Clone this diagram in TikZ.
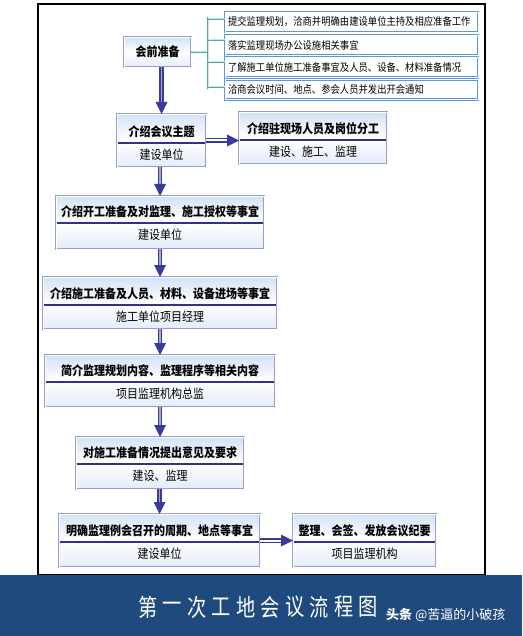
\documentclass[tikz,border=0pt]{standalone}
\usepackage{fontspec}
\setmainfont{Noto Sans CJK SC}[FakeStretch=0.88]
\newfontfamily\wmfont{Noto Sans CJK SC}
\newfontfamily\bnfont{Noto Sans CJK SC}[FakeStretch=0.8]
\usetikzlibrary{arrows.meta,calc}
\definecolor{boxedge}{HTML}{9C9CCC}
\definecolor{boxtop}{HTML}{D2E2F6}
\definecolor{boxbot}{HTML}{E2ECF9}
\definecolor{divc}{HTML}{2E3190}
\definecolor{arrc}{HTML}{3A3A9C}
\definecolor{listedge}{HTML}{5A9AD8}
\definecolor{brc}{HTML}{4FA9A2}
\definecolor{banner}{HTML}{1F4A7E}
\tikzset{
  flowbox/.style={draw=boxedge, double=white, double distance=0.9pt, line width=1pt,
    top color=boxtop, bottom color=boxbot, middle color=white, inner sep=0pt, outer sep=0pt},
  divider/.style={draw=divc, line width=1.2pt},
  titletext/.style={font=\fontsize{12.5}{14}\selectfont\bfseries, inner sep=0pt},
  subtext/.style={font=\fontsize{12.5}{14}\selectfont, inner sep=0pt},
  listbox/.style={draw=listedge, double=white, double distance=0.8pt, line width=0.8pt,
    fill=white, minimum height=20pt, text width=247pt, align=left, inner xsep=3pt, inner ysep=0pt,
    font=\fontsize{10.6}{12}\selectfont, outer sep=0pt},
  bracket/.style={draw=brc, double=white!70!brc, double distance=1pt, line width=0.8pt},
  shaft/.style={draw=arrc, double=arrc!45, double distance=1.4pt, line width=1.4pt},
  rshaft/.style={draw=arrc, double=white, double distance=2pt, line width=1.2pt},
  headc/.style={fill=arrc},
  bannertext/.style={text=white, font=\bnfont\fontsize{24}{26}\selectfont, inner sep=0pt},
}
\newcommand\flowbox[8]{%
  \node[flowbox, minimum width={#4-#2-2}, minimum height={#5-#3-2}] (#1) at ({(#2+#4)/2},{(#3+#5)/2}) {};
  \draw[divider] ({#2+1.8},#6) -- ({#4-1.8},#6);
  \node[titletext] (#1t) at ({(#2+#4)/2},{#6-11}) {#7};
  \node[subtext] (#1s) at ({(#2+#4)/2},{#6+12}) {#8};
}
\newcommand\downarr[2]{%
  \draw[shaft] (#1.south -| #2.north) -- ([yshift=10pt]#2.north);
  \fill[headc] (#2.north) -- ++(-6,-12) -- ++(12,0) -- cycle;
}
\newcommand\rightarr[2]{%
  \draw[rshaft] (#1.east) -- ([xshift=-10pt]#1.east -| #2.west);
  \fill[headc] (#1.east -| #2.west) -- ++(-12,6) -- ++(0,-12) -- cycle;
}
\begin{document}
\begin{tikzpicture}[x=1pt,y=-1pt]
\useasboundingbox (0,0) rectangle (522,636);
% frame
\draw[line width=1.2pt] (38,4) rectangle (485,575);
% prep box
\node[flowbox, minimum width=67, minimum height=30, font=\fontsize{12.5}{14}\selectfont\bfseries] (prep) at (157.5,52) {会前准备};
% list boxes
\node[listbox] (l1) at (351.5,22) {提交监理规划，洽商并明确由建设单位主持及相应准备工作};
\node[listbox] (l2) at (351.5,45) {落实监理现场办公设施相关事宜};
\node[listbox] (l3) at (351.5,67) {了解施工单位施工准备事宜及人员、设备、材料准备情况};
\node[listbox] (l4) at (351.5,89.5) {洽商会议时间、地点、参会人员并发出开会通知};
% bracket
\coordinate (brj) at (208,52);
\coordinate (brtop) at (208,17);
\coordinate (brbot) at (208,89);
\draw[bracket] (prep.east) -- (brj);
\draw[bracket] (brtop) -- (brbot);
\coordinate (t1) at (208,19);
\coordinate (t2) at (208,40);
\coordinate (t3) at (208,62);
\coordinate (t4) at (208,87);
\draw[bracket] (t1) -- (t1 -| l1.west);
\draw[bracket] (t2) -- (t2 -| l2.west);
\draw[bracket] (t3) -- (t3 -| l3.west);
\draw[bracket] (t4) -- (t4 -| l4.west);
% flow boxes
\flowbox{intro}{116}{113}{207}{168}{143}{介绍会议主题}{建设单位}
\flowbox{staff}{238}{111}{388}{165}{140}{介绍驻现场人员及岗位分工}{建设、施工、监理}
\flowbox{bc}{55}{195}{265}{250}{223}{介绍开工准备及对监理、施工授权等事宜}{建设单位}
\flowbox{bd}{42}{276}{278}{330}{305}{介绍施工准备及人员、材料、设备进场等事宜}{施工单位项目经理}
\flowbox{be}{44}{354}{276}{408}{382}{简介监理规划内容、监理程序等相关内容}{项目监理机构总监}
\flowbox{bf}{75}{436}{245}{490}{464}{对施工准备情况提出意见及要求}{建设、监理}
\flowbox{bg}{58}{513}{261}{568}{542}{明确监理例会召开的周期、地点等事宜}{建设单位}
\flowbox{bh}{292}{513}{437}{568}{542}{整理、会签、发放会议纪要}{项目监理机构}
% arrows
\downarr{prep}{intro}
\downarr{intro}{bc}
\downarr{bc}{bd}
\downarr{bd}{be}
\downarr{be}{bf}
\downarr{bf}{bg}
\rightarr{intro}{staff}
\rightarr{bg}{bh}
% banner
\fill[banner] (0,575) rectangle (522,636);
\foreach \c [count=\i from 0] in {第,一,次,工,地,会,议,流,程,图}
  \node[bannertext] (bt\i) at (148+24.5*\i,607) {\c};
\node[text=white, anchor=west, inner sep=0pt, font=\wmfont\fontsize{13}{15}\selectfont] (wm) at (386,615) {{\bfseries 头条} @苦逼的小破孩};
\end{tikzpicture}
\end{document}
